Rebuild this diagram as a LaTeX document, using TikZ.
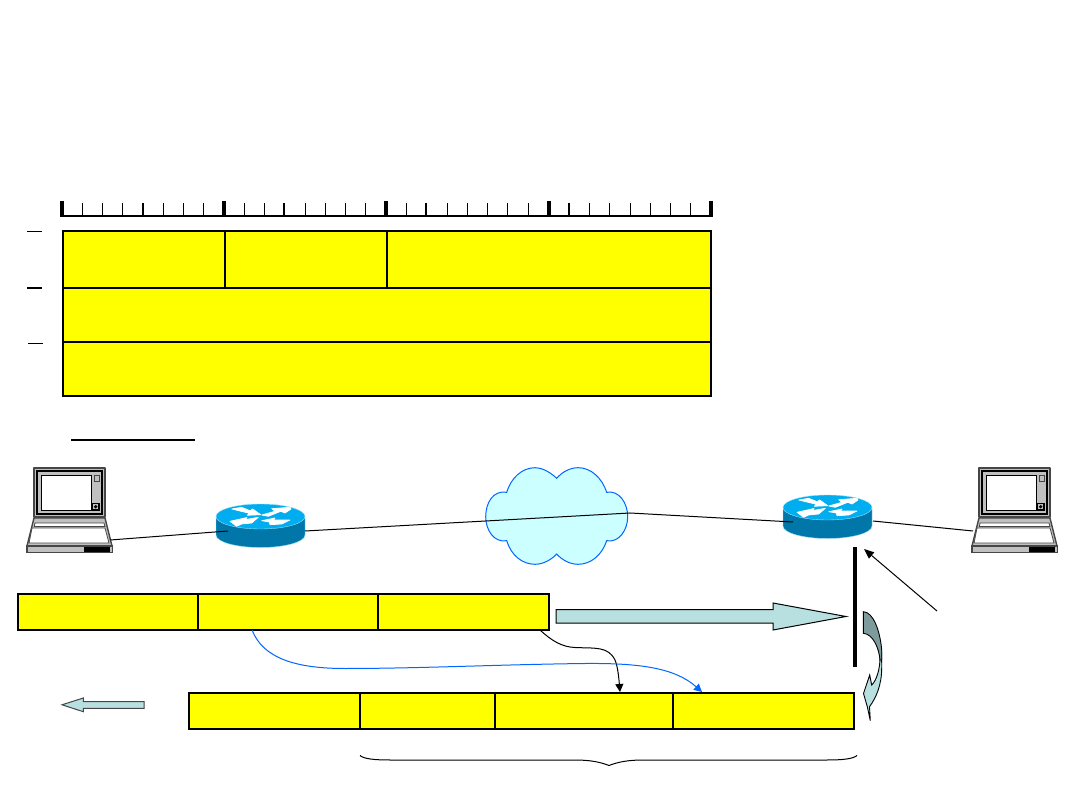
\documentclass[tikz,border=0pt]{standalone}
\usetikzlibrary{arrows.meta}
\definecolor{cellyellow}{RGB}{255,255,0}
\definecolor{arrowfill}{RGB}{184,224,224}
\definecolor{arrowdark}{RGB}{125,155,155}
\definecolor{cloudfill}{RGB}{204,255,255}
\definecolor{cloudline}{RGB}{0,102,255}
\definecolor{routertop}{RGB}{0,174,239}
\definecolor{routerside}{RGB}{0,119,168}
\definecolor{lapgrey}{RGB}{192,192,192}
\definecolor{lapdark}{RGB}{70,70,70}
\tikzset{
  cell/.style={draw=black,fill=cellyellow,line width=2pt,inner sep=0pt,outer sep=0pt,anchor=north west},
  wire/.style={draw=black,line width=1pt},
  bigarrow/.style={draw=black,fill=arrowfill,line width=1pt,line join=miter},
  tickminor/.style={draw=black,line width=1pt},
  tickmid/.style={draw=black,line width=2pt},
  tickmajor/.style={draw=black,line width=4pt},
  routerarrow/.style={draw=white,fill=white,line width=.7pt,line join=round},
  router/.pic={
    \fill[routerside,draw=routertop!40!white,line width=.4pt] (216,518) -- (216,535) arc[x radius=44.5,y radius=12.5,start angle=180,end angle=0] -- (305,518) -- cycle;
    \fill[routertop,draw=routertop!40!white,line width=.4pt] (260.5,516.5) ellipse[x radius=44.5,y radius=12.5];
    \path[routerarrow] (231.7,509) -- (241.7,507.3) -- (250,510.7) -- (252.7,509) -- (260.7,514.7) -- (247.3,515.3) -- (249.3,513.3) -- cycle;
    \path[routerarrow] (261.7,515) -- (275,511.3) -- (271.7,508.7) -- (290,507.3) -- (291,509) -- (285,513) -- (280.7,511.3) -- (268.3,516.3) -- cycle;
    \path[routerarrow] (258.3,517.3) -- (245,519.7) -- (247,517.5) -- (230,521.3) -- (236.7,526.3) -- (241.7,524) -- (251.7,523) -- cycle;
    \path[routerarrow] (261.7,520.7) -- (275,518) -- (273.3,520) -- (290,520) -- (281.7,524) -- (270,524.7) -- (269.3,522) -- cycle;
  },
  laptop/.pic={
    \draw[lapdark,fill=lapgrey,line width=1.5pt,line join=round] (34,468) rectangle (105,517);
    \draw[black,line width=1.2pt] (37,471) rectangle (102,514);
    \draw[black,fill=white,line width=1.2pt] (41.5,475.5) rectangle (91.5,510.5);
    \draw[lapdark,line width=.8pt] (94,475.5) rectangle (99.5,481);
    \draw[black,line width=1.2pt] (92,503.5) rectangle (99,510);
    \fill[black] (95.7,506.7) circle[radius=1.8];
    \draw[lapdark,fill=lapgrey,line width=1.4pt,line join=round] (34,518) -- (105,518) -- (112,546) -- (27,546) -- cycle;
    \draw[lapdark,fill=white,line width=.8pt] (35,523) -- (104,523) -- (105,526.5) -- (34.3,526.5) -- cycle;
    \draw[lapdark,fill=white,line width=.8pt] (32,528) -- (105,528) -- (109,543) -- (29,543) -- cycle;
    \draw[lapdark,fill=lapgrey,line width=1.4pt] (27,546) rectangle (112.5,552.5);
    \fill[black] (84,546.6) rectangle (110,552);
  }
}
\begin{document}
\begin{tikzpicture}[x=1pt,y=-1pt]
\useasboundingbox (0,0) rectangle (1080,810);
\fill[white] (0,0) rectangle (1080,810);

% ruler
\draw[black,line width=2pt] (62,216) -- (711,216);
\foreach \x in {82,102,122,163,183,203,244,264,305,325,345,365,406,447,467,487,507,528,589,609,630,650,670,690}
  \draw[tickminor] (\x,203) -- (\x,216);
\foreach \x in {143,284,426,569}
  \draw[tickmid] (\x,203) -- (\x,216);
\foreach \x in {62,224,386,549,711}
  \draw[tickmajor] (\x,201) -- (\x,217.5);

% side dashes
\draw[black,line width=1pt] (27,231.5) -- (42,231.5);
\draw[black,line width=2pt] (27,288) -- (42,288);
\draw[black,line width=1pt] (28,343.5) -- (43,343.5);

% header table
\node[cell,minimum width=162pt,minimum height=57pt] (hA) at (63,231) {};
\node[cell,minimum width=162pt,minimum height=57pt] (hB) at (225,231) {};
\node[cell,minimum width=324pt,minimum height=57pt] (hC) at (387,231) {};
\node[cell,minimum width=648pt,minimum height=54pt] (hD) at (63,288) {};
\node[cell,minimum width=648pt,minimum height=54pt] (hE) at (63,342) {};

% underline
\draw[black,line width=2pt] (71,439.7) -- (195,439.7);

% cloud
\draw[draw=cloudline,fill=cloudfill,line width=1pt] (556.7,478.3)
  .. controls (549,471) and (541,467.7) .. (535,467.7)
  .. controls (522,467.7) and (511,478) .. (506.7,492.3)
  .. controls (493,490) and (485.7,503) .. (485.7,516.7)
  .. controls (485.7,530) and (494,543) .. (506.7,540.7)
  .. controls (511,555) and (522,564.3) .. (535,564.3)
  .. controls (543,564.3) and (551,560) .. (556.7,554)
  .. controls (562,560) and (570,564.3) .. (578,564.3)
  .. controls (591,564.3) and (602,555) .. (606.7,540.7)
  .. controls (619,543) and (627.7,530) .. (627.7,516.7)
  .. controls (627.7,503) and (619,490) .. (606.7,492.3)
  .. controls (602,478) and (591,467.7) .. (578.3,467.7)
  .. controls (571,467.7) and (563,471) .. (556.7,478.3) -- cycle;

% devices
\pic {laptop};
\pic[shift={(945,0)}] {laptop};
\pic {router};
\pic[shift={(567,-9)}] {router};

\coordinate (lapL) at (110,540);
\coordinate (rtLin) at (228,531);
\coordinate (rtLout) at (305,531);
\coordinate (cloudR) at (630,513);
\coordinate (rtRin) at (793,522);
\coordinate (rtRout) at (873,521);
\coordinate (lapR) at (973,531);
\draw[wire] (lapL) -- (rtLin);
\draw[wire] (rtLout) -- (cloudR) -- (rtRin);
\draw[wire] (rtRout) -- (lapR);

% upper frame
\node[cell,minimum width=180pt,minimum height=36pt] (uA) at (18,594) {};
\node[cell,minimum width=180pt,minimum height=36pt] (uB) at (198,594) {};
\node[cell,minimum width=171pt,minimum height=36pt] (uC) at (378,594) {};

% lower frame
\node[cell,minimum width=171pt,minimum height=36pt] (lA) at (189,692.5) {};
\node[cell,minimum width=135pt,minimum height=36pt] (lB) at (360,692.5) {};
\node[cell,minimum width=178pt,minimum height=36pt] (lC) at (495,692.5) {};
\node[cell,minimum width=181pt,minimum height=36pt] (lD) at (673,692.5) {};
\fill[cellyellow] (673.5,693.6) rectangle (674.2,727.4);

% big arrow
\draw[bigarrow] (556,609.5) -- (773,609.5) -- (773,603) -- (846,616.5) -- (773,630) -- (773,623) -- (556,623) -- cycle;

% bar
\coordinate (barTop) at (855,547);
\coordinate (barBot) at (855,667);
\draw[black,line width=4pt] (barTop) -- (barBot);

% pointer
\coordinate (ptrTail) at (937,611);
\coordinate (ptrTip) at (864,549);
\draw[black,line width=1pt,-{Triangle[length=10pt,width=8pt]}] (ptrTail) -- (ptrTip);

% curved arrow
\draw[black,fill=arrowfill,line width=.9pt,line join=miter]
  (880,658) .. controls (880,668) and (877,680) .. (871.7,685)
  -- (869.7,675) -- (863.5,693.5) -- (867.3,706.7) -- (870.3,720.7) -- (869.5,706.7)
  .. controls (876,698) and (881.7,685) .. (881.7,668)
  .. controls (881.7,662) and (881.7,656) .. (881.5,650) -- cycle;
\draw[black,fill=arrowdark,line width=.9pt,line join=miter]
  (863.3,611.7) .. controls (873,612) and (880,630) .. (881.7,650) -- (881.7,660)
  -- (880,660) .. controls (879,648) and (873,634) .. (863.3,633.3) -- cycle;

% left arrow
\draw[draw=lapdark,fill=arrowfill,line width=1pt,line join=miter] (144,701.7) -- (83.3,701.7) -- (83.3,698) -- (62,704.8) -- (83.3,711.7) -- (83.3,708.3) -- (144,708.3) -- cycle;

% curves
\coordinate (blueS) at (252,630);
\coordinate (blueE) at (702,692);
\coordinate (blackS) at (540,630);
\coordinate (blackE) at (620,692);
\draw[draw=black,line width=1pt,-{Triangle[length=8pt,width=8pt]}] (blackS)
  .. controls (552,641) and (562,647) .. (575,647.5)
  .. controls (595,648.5) and (608,646) .. (615,660)
  .. controls (618,667) and (619,680) .. (blackE);
\draw[draw=cloudline,line width=1pt,-{Triangle[length=8pt,width=8pt]}] (blueS)
  .. controls (263,658) and (295,668.5) .. (345,668.5)
  .. controls (420,668.5) and (500,664.5) .. (585,663.5)
  .. controls (640,663) and (675,668) .. (blueE);

% brace
\coordinate (brL) at (360,755.5);
\coordinate (brR) at (857,755.5);
\coordinate (brM) at (609,765.5);
\draw[black,line width=1pt] (brL) .. controls (364,759) and (375,760) .. (390,760)
  -- (575,760) .. controls (590,760) and (600,762) .. (brM)
  .. controls (618,762) and (628,760) .. (643,760)
  -- (827,760) .. controls (842,760) and (853,759) .. (brR);
\end{tikzpicture}
\end{document}
